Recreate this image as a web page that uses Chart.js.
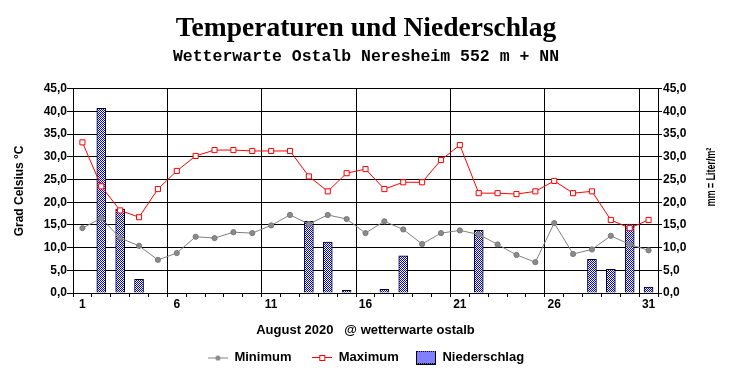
<!DOCTYPE html>
<html>
<head>
<meta charset="utf-8">
<script src="https://cdn.jsdelivr.net/npm/chart.js@4/dist/chart.umd.min.js"></script>
<style>
html,body{margin:0;padding:0;background:#fff;}
#wrap{width:732px;height:380px;position:relative;}
</style>
</head>
<body>
<div id="wrap"><canvas id="c" width="732" height="380"></canvas></div>
<script>
const days = ['1','2','3','4','5','6','7','8','9','10','11','12','13','14','15','16','17','18','19','20','21','22','23','24','25','26','27','28','29','30','31'];
const tMin = [14.3,16.5,12.1,10.4,7.3,8.8,12.4,12.1,13.4,13.2,14.9,17.2,15.2,17.2,16.3,13.2,15.8,14.0,10.8,13.2,13.8,12.9,10.7,8.4,6.8,15.4,8.6,9.6,12.6,10.7,9.4];
const tMax = [33.2,23.5,18.2,16.7,22.9,26.9,30.2,31.5,31.5,31.3,31.3,31.3,25.7,22.4,26.4,27.3,22.9,24.4,24.4,29.3,32.6,22.0,22.0,21.8,22.4,24.7,22.0,22.4,16.1,14.3,16.1];
const rain = [null,40.7,18.5,3.0,null,null,null,null,null,null,null,null,15.8,11.2,0.6,null,0.8,8.2,null,null,null,13.8,null,null,null,null,null,7.4,5.2,15.2,1.3];
const seriesNames = ['Minimum','Maximum','Niederschlag'];
const titleText = 'Temperaturen und Niederschlag';
const subtitleText = 'Wetterwarte Ostalb Neresheim 552 m + NN';
const xTitle = 'August 2020   @ wetterwarte ostalb';
const yTitle = 'Grad Celsius °C';
const y2Title = 'mm = Liter/m²';

function makePatternOn(g){
  const p = document.createElement('canvas');
  p.width = 2; p.height = 2;
  const h = p.getContext('2d');
  h.fillStyle = '#ffffff'; h.fillRect(0,0,2,2);
  h.fillStyle = '#0000ff';
  h.fillRect(0,0,1,1); h.fillRect(1,1,1,1);
  return g.createPattern(p,'repeat');
}
const pat = makePatternOn(document.createElement('canvas').getContext('2d'));

function legendMin(){
  const c = document.createElement('canvas'); c.width = 20; c.height = 8;
  const g = c.getContext('2d');
  g.strokeStyle = '#808080'; g.lineWidth = 1;
  g.beginPath(); g.moveTo(0,4.5); g.lineTo(20,4.5); g.stroke();
  g.fillStyle = '#8a8a8a'; g.beginPath(); g.arc(10,4.5,2.6,0,Math.PI*2); g.fill();
  return c;
}
function legendMax(){
  const c = document.createElement('canvas'); c.width = 20; c.height = 9;
  const g = c.getContext('2d');
  g.strokeStyle = '#ff0000'; g.lineWidth = 1;
  g.beginPath(); g.moveTo(0,4.5); g.lineTo(20,4.5); g.stroke();
  g.fillStyle = '#ffffff'; g.fillRect(7.5,2.5,5,5);
  g.strokeRect(7.5,2.5,5,5);
  return c;
}
function legendRain(){
  const c = document.createElement('canvas'); c.width = 20; c.height = 14;
  const g = c.getContext('2d');
  g.fillStyle = makePatternOn(g); g.fillRect(0.5,0.5,19,13);
  g.strokeStyle = '#000'; g.lineWidth = 1; g.strokeRect(0.5,0.5,19,13);
  return c;
}
const legendImgs = [legendMin(), legendMax(), legendRain()];
const legendTexts = [seriesNames[0] + '   ', seriesNames[1] + '  ', seriesNames[2]];

const rightTitlePlugin = {
  id: 'rightTitle',
  afterDraw(chart){
    const ctx = chart.ctx;
    ctx.save();
    ctx.translate(712, 177);
    ctx.rotate(-Math.PI/2);
    ctx.scale(0.74, 1);
    ctx.font = 'bold 12px "Liberation Sans", Arial, sans-serif';
    ctx.fillStyle = '#000';
    ctx.textAlign = 'center';
    ctx.textBaseline = 'middle';
    ctx.fillText(y2Title, 0, 0);
    ctx.restore();
  }
};

Chart.defaults.color = '#000';
Chart.defaults.font.family = '"Liberation Sans", Arial, sans-serif';

new Chart(document.getElementById('c'), {
  data: {
    labels: days,
    datasets: [
      {
        type: 'line', label: seriesNames[0], data: tMin, yAxisID: 'y', order: 1,
        borderColor: '#808080', borderWidth: 1, tension: 0,
        pointStyle: 'circle', pointRadius: 2.6, pointBackgroundColor: '#8a8a8a', pointBorderColor: '#7a7a7a', pointBorderWidth: 1
      },
      {
        type: 'line', label: seriesNames[1], data: tMax, yAxisID: 'y', order: 2,
        borderColor: '#ff0000', borderWidth: 1, tension: 0,
        pointStyle: 'rect', pointRadius: 3.6, pointBackgroundColor: '#ffffff', pointBorderColor: '#ff0000', pointBorderWidth: 1
      },
      {
        type: 'bar', label: seriesNames[2], data: rain, yAxisID: 'y2', order: 3,
        backgroundColor: pat, borderColor: '#000', borderWidth: 1, borderSkipped: 'bottom',
        barThickness: 9
      }
    ]
  },
  options: {
    responsive: false,
    animation: false,
    events: [],
    layout: { padding: { top: 0, left: 0, right: 0, bottom: 6 } },
    plugins: {
      tooltip: { enabled: false },
      title: {
        display: true, text: titleText, color: '#000',
        font: { family: '"Liberation Serif", "Times New Roman", serif', size: 27.5, weight: 'bold', lineHeight: 1.2 },
        padding: { top: 12, bottom: 0 }
      },
      subtitle: {
        display: true, text: subtitleText, color: '#000',
        font: { family: '"Liberation Mono", "Courier New", monospace', size: 16.5, weight: 'bold', lineHeight: 1.2 },
        padding: { top: 2, bottom: 22 }
      },
      legend: {
        display: true, position: 'bottom',
        labels: {
          usePointStyle: true, pointStyleWidth: 20, padding: 10,
          font: { size: 13, weight: 'bold' }, color: '#000',
          generateLabels(chart){
            return legendTexts.map((t, i) => ({
              text: t, datasetIndex: i, pointStyle: legendImgs[i],
              fillStyle: 'transparent', strokeStyle: 'transparent', lineWidth: 0, hidden: false, fontColor: '#000'
            }));
          }
        }
      }
    },
    scales: {
      x: {
        type: 'category', offset: true,
        afterFit(s){ s.height = 48; },
        grid: {
          offset: true, drawOnChartArea: true, drawTicks: true, tickLength: 4,
          color: (c) => (c.index % 5 === 0 || c.index === 31) ? '#000' : 'rgba(0,0,0,0)',
          tickColor: '#000', lineWidth: 1
        },
        border: { color: '#000', width: 1 },
        ticks: {
          autoSkip: false, maxRotation: 0, padding: 0,
          font: { size: 12, weight: 'bold' }, color: '#000',
          callback(v, i){ return (i % 5 === 0) ? days[i] : ''; }
        },
        title: {
          display: true, text: xTitle, color: '#000',
          font: { size: 13, weight: 'bold' }, padding: { top: 0, bottom: 3 }
        }
      },
      y: {
        position: 'left', min: 0, max: 45,
        afterFit(s){ s.width = 73; },
        grid: { color: '#000', tickColor: '#000', tickLength: 6, lineWidth: 1 },
        border: { color: '#000', width: 1 },
        ticks: {
          stepSize: 5, padding: 0, font: { size: 12, weight: 'bold' }, color: '#000',
          callback(v){ return v.toFixed(1).replace('.', ','); }
        },
        title: {
          display: true, text: yTitle, color: '#000',
          font: { size: 12, weight: 'bold' }, padding: { top: 12, bottom: 0 }
        }
      },
      y2: {
        position: 'right', min: 0, max: 45,
        afterFit(s){ s.width = 74; },
        grid: { drawOnChartArea: false, color: '#000', tickColor: '#000', tickLength: 4 },
        border: { color: '#000', width: 1 },
        ticks: {
          stepSize: 5, padding: 1, font: { size: 12, weight: 'bold' }, color: '#000',
          callback(v){ return v.toFixed(1).replace('.', ','); }
        }
      }
    }
  },
  plugins: [rightTitlePlugin]
});
</script>
</body>
</html>
